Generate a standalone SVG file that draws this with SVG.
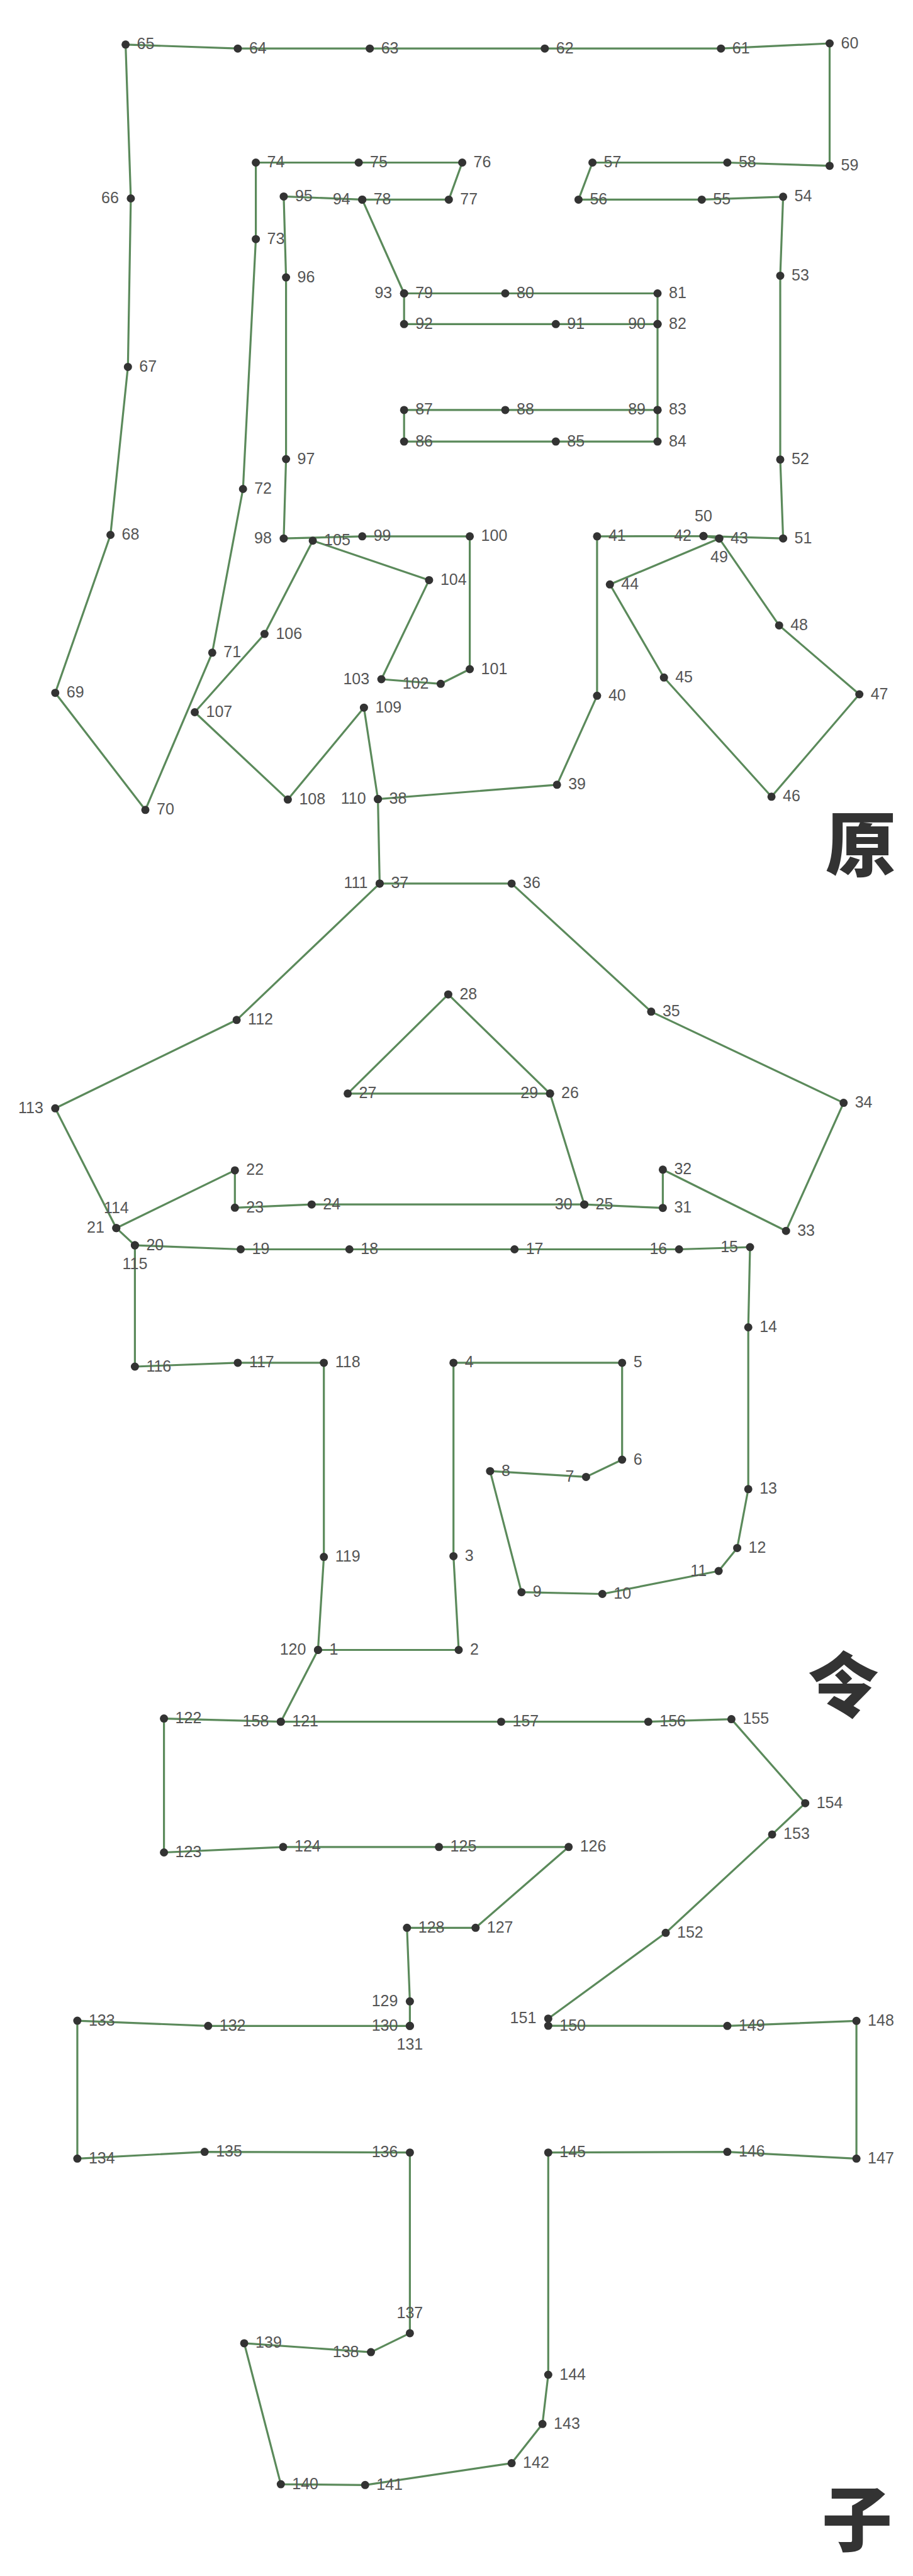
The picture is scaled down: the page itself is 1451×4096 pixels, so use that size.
<svg xmlns="http://www.w3.org/2000/svg" width="1451" height="4096" viewBox="0 0 1451 4096">
<style>
.bg{fill:#fff}
.ln{fill:none;stroke:#5b8a5b;stroke-width:3.2;stroke-linejoin:round;stroke-linecap:round}
circle{fill:#333}
text{font-family:"Liberation Sans",Arial,sans-serif;font-size:25px;fill:#555}
.R text{text-anchor:start}
.L text{text-anchor:end}
.A text,.B text{text-anchor:middle}
.cjk{font-family:"Noto Sans CJK SC","Noto Sans CJK JP",sans-serif;font-size:112px;font-weight:900;fill:#333;text-anchor:middle}
</style>
<rect class="bg" x="0" y="0" width="1451" height="4096"/>
<g id="connectors">
<polyline class="ln" points="505.4,2623.5 729.0,2623.5 720.7,2474.4 720.7,2166.9 988.7,2166.9 988.7,2321.0 931.4,2348.4 778.9,2339.2 828.8,2531.7 957.3,2534.5 1142.1,2498.0 1171.6,2461.4 1189.2,2367.8 1189.2,2110.5 1192.0,1983.0 1079.2,1986.5 817.7,1986.5 555.3,1986.5 382.5,1986.5 214.4,1980.1 184.8,1952.7 373.3,1860.9 373.3,1920.3 495.3,1915.2 928.6,1915.2 874.1,1738.8 552.6,1738.8 712.4,1581.2 874.1,1738.8 928.6,1915.2 1053.4,1920.7 1053.4,1859.8 1249.2,1957.2 1340.7,1753.6 1034.9,1608.6 813.1,1404.9 603.4,1404.9 600.6,1270.6 885.2,1247.8 948.9,1106.3 948.9,852.8 1118.0,852.3 1143.0,856.2 969.3,929.3 1055.2,1077.3 1226.1,1266.8 1365.7,1104.0 1238.2,994.4 1143.0,856.2 1118.0,852.3 1244.6,856.2 1240.0,730.7 1240.0,438.4 1244.6,312.8 1115.3,317.4 919.4,317.4 941.6,258.5 1155.9,258.5 1318.5,263.7 1318.5,69.0 1145.8,77.2 865.8,77.2 587.7,77.2 377.9,77.2 199.6,70.8 207.9,315.5 203.3,583.4 175.6,850.5 87.8,1101.7 231.0,1287.8 337.3,1037.8 386.2,777.5 406.6,380.2 406.6,258.5 570.1,258.5 734.6,258.5 713.3,317.4 575.7,317.4 642.2,466.5 803.0,466.5 1045.0,466.5 1045.0,515.3 1045.0,651.9 1045.0,702.1 883.3,702.1 642.2,702.1 642.2,651.9 803.0,651.9 1045.0,651.9 1045.0,515.3 883.3,515.3 642.2,515.3 642.2,466.5 575.7,317.4 450.9,312.4 454.6,441.1 454.6,730.0 450.9,856.2 575.7,852.8 746.6,852.8 746.6,1064.0 700.4,1087.3 606.1,1080.0 681.9,922.4 497.1,859.7 420.4,1008.1 309.5,1132.5 457.4,1271.3 578.4,1125.2 600.6,1270.6 603.4,1404.9 376.1,1621.8 87.8,1762.3 184.8,1952.7 214.4,1980.1 214.4,2173.0 377.9,2166.9 514.7,2166.9 514.7,2475.6 505.4,2623.5 446.3,2737.7 260.6,2732.6 260.6,2945.5 450.0,2936.8 697.6,2936.8 903.7,2936.8 755.8,3065.3 646.8,3065.3 651.4,3182.3 651.4,3221.3 651.4,3221.3 330.8,3221.3 122.9,3213.1 122.9,3432.3 325.2,3421.6 651.4,3422.7 651.4,3709.9 589.5,3740.1 388.1,3725.9 446.3,3950.1 580.3,3951.3 813.1,3916.6 862.1,3854.3 871.3,3776.0 871.3,3422.7 1155.9,3421.6 1361.1,3432.3 1361.1,3213.3 1155.9,3221.3 871.3,3221.1 871.3,3209.7 1058.0,3073.3 1227.1,2916.9 1279.7,2867.2 1162.4,2733.6 1030.3,2737.7 796.5,2737.7 446.3,2737.7"/>
</g>
<g id="nodes">
<g id="n1" class="R" transform="translate(505.4 2623.5)"><circle r="6.5"/><text x="18" y="7.5">1</text></g>
<g id="n2" class="R" transform="translate(729.0 2623.5)"><circle r="6.5"/><text x="18" y="7.5">2</text></g>
<g id="n3" class="R" transform="translate(720.7 2474.4)"><circle r="6.5"/><text x="18" y="7.5">3</text></g>
<g id="n4" class="R" transform="translate(720.7 2166.9)"><circle r="6.5"/><text x="18" y="7.5">4</text></g>
<g id="n5" class="R" transform="translate(988.7 2166.9)"><circle r="6.5"/><text x="18" y="7.5">5</text></g>
<g id="n6" class="R" transform="translate(988.7 2321.0)"><circle r="6.5"/><text x="18" y="7.5">6</text></g>
<g id="n7" class="L" transform="translate(931.4 2348.4)"><circle r="6.5"/><text x="-19" y="7.5">7</text></g>
<g id="n8" class="R" transform="translate(778.9 2339.2)"><circle r="6.5"/><text x="18" y="7.5">8</text></g>
<g id="n9" class="R" transform="translate(828.8 2531.7)"><circle r="6.5"/><text x="18" y="7.5">9</text></g>
<g id="n10" class="R" transform="translate(957.3 2534.5)"><circle r="6.5"/><text x="18" y="7.5">10</text></g>
<g id="n11" class="L" transform="translate(1142.1 2498.0)"><circle r="6.5"/><text x="-19" y="7.5">11</text></g>
<g id="n12" class="R" transform="translate(1171.6 2461.4)"><circle r="6.5"/><text x="18" y="7.5">12</text></g>
<g id="n13" class="R" transform="translate(1189.2 2367.8)"><circle r="6.5"/><text x="18" y="7.5">13</text></g>
<g id="n14" class="R" transform="translate(1189.2 2110.5)"><circle r="6.5"/><text x="18" y="7.5">14</text></g>
<g id="n15" class="L" transform="translate(1192.0 1983.0)"><circle r="6.5"/><text x="-19" y="7.5">15</text></g>
<g id="n16" class="L" transform="translate(1079.2 1986.5)"><circle r="6.5"/><text x="-19" y="7.5">16</text></g>
<g id="n17" class="R" transform="translate(817.7 1986.5)"><circle r="6.5"/><text x="18" y="7.5">17</text></g>
<g id="n18" class="R" transform="translate(555.3 1986.5)"><circle r="6.5"/><text x="18" y="7.5">18</text></g>
<g id="n19" class="R" transform="translate(382.5 1986.5)"><circle r="6.5"/><text x="18" y="7.5">19</text></g>
<g id="n20" class="R" transform="translate(214.4 1980.1)"><circle r="6.5"/><text x="18" y="7.5">20</text></g>
<g id="n21" class="L" transform="translate(184.8 1952.7)"><circle r="6.5"/><text x="-19" y="7.5">21</text></g>
<g id="n22" class="R" transform="translate(373.3 1860.9)"><circle r="6.5"/><text x="18" y="7.5">22</text></g>
<g id="n23" class="R" transform="translate(373.3 1920.3)"><circle r="6.5"/><text x="18" y="7.5">23</text></g>
<g id="n24" class="R" transform="translate(495.3 1915.2)"><circle r="6.5"/><text x="18" y="7.5">24</text></g>
<g id="n25" class="R" transform="translate(928.6 1915.2)"><circle r="6.5"/><text x="18" y="7.5">25</text></g>
<g id="n26" class="R" transform="translate(874.1 1738.8)"><circle r="6.5"/><text x="18" y="7.5">26</text></g>
<g id="n27" class="R" transform="translate(552.6 1738.8)"><circle r="6.5"/><text x="18" y="7.5">27</text></g>
<g id="n28" class="R" transform="translate(712.4 1581.2)"><circle r="6.5"/><text x="18" y="7.5">28</text></g>
<g id="n29" class="L" transform="translate(874.1 1738.8)"><circle r="6.5"/><text x="-19" y="7.5">29</text></g>
<g id="n30" class="L" transform="translate(928.6 1915.2)"><circle r="6.5"/><text x="-19" y="7.5">30</text></g>
<g id="n31" class="R" transform="translate(1053.4 1920.7)"><circle r="6.5"/><text x="18" y="7.5">31</text></g>
<g id="n32" class="R" transform="translate(1053.4 1859.8)"><circle r="6.5"/><text x="18" y="7.5">32</text></g>
<g id="n33" class="R" transform="translate(1249.2 1957.2)"><circle r="6.5"/><text x="18" y="7.5">33</text></g>
<g id="n34" class="R" transform="translate(1340.7 1753.6)"><circle r="6.5"/><text x="18" y="7.5">34</text></g>
<g id="n35" class="R" transform="translate(1034.9 1608.6)"><circle r="6.5"/><text x="18" y="7.5">35</text></g>
<g id="n36" class="R" transform="translate(813.1 1404.9)"><circle r="6.5"/><text x="18" y="7.5">36</text></g>
<g id="n37" class="R" transform="translate(603.4 1404.9)"><circle r="6.5"/><text x="18" y="7.5">37</text></g>
<g id="n38" class="R" transform="translate(600.6 1270.6)"><circle r="6.5"/><text x="18" y="7.5">38</text></g>
<g id="n39" class="R" transform="translate(885.2 1247.8)"><circle r="6.5"/><text x="18" y="7.5">39</text></g>
<g id="n40" class="R" transform="translate(948.9 1106.3)"><circle r="6.5"/><text x="18" y="7.5">40</text></g>
<g id="n41" class="R" transform="translate(948.9 852.8)"><circle r="6.5"/><text x="18" y="7.5">41</text></g>
<g id="n42" class="L" transform="translate(1118.0 852.3)"><circle r="6.5"/><text x="-19" y="7.5">42</text></g>
<g id="n43" class="R" transform="translate(1143.0 856.2)"><circle r="6.5"/><text x="18" y="7.5">43</text></g>
<g id="n44" class="R" transform="translate(969.3 929.3)"><circle r="6.5"/><text x="18" y="7.5">44</text></g>
<g id="n45" class="R" transform="translate(1055.2 1077.3)"><circle r="6.5"/><text x="18" y="7.5">45</text></g>
<g id="n46" class="R" transform="translate(1226.1 1266.8)"><circle r="6.5"/><text x="18" y="7.5">46</text></g>
<g id="n47" class="R" transform="translate(1365.7 1104.0)"><circle r="6.5"/><text x="18" y="7.5">47</text></g>
<g id="n48" class="R" transform="translate(1238.2 994.4)"><circle r="6.5"/><text x="18" y="7.5">48</text></g>
<g id="n49" class="B" transform="translate(1143.0 856.2)"><circle r="6.5"/><text x="0" y="38">49</text></g>
<g id="n50" class="A" transform="translate(1118.0 852.3)"><circle r="6.5"/><text x="0" y="-23.5">50</text></g>
<g id="n51" class="R" transform="translate(1244.6 856.2)"><circle r="6.5"/><text x="18" y="7.5">51</text></g>
<g id="n52" class="R" transform="translate(1240.0 730.7)"><circle r="6.5"/><text x="18" y="7.5">52</text></g>
<g id="n53" class="R" transform="translate(1240.0 438.4)"><circle r="6.5"/><text x="18" y="7.5">53</text></g>
<g id="n54" class="R" transform="translate(1244.6 312.8)"><circle r="6.5"/><text x="18" y="7.5">54</text></g>
<g id="n55" class="R" transform="translate(1115.3 317.4)"><circle r="6.5"/><text x="18" y="7.5">55</text></g>
<g id="n56" class="R" transform="translate(919.4 317.4)"><circle r="6.5"/><text x="18" y="7.5">56</text></g>
<g id="n57" class="R" transform="translate(941.6 258.5)"><circle r="6.5"/><text x="18" y="7.5">57</text></g>
<g id="n58" class="R" transform="translate(1155.9 258.5)"><circle r="6.5"/><text x="18" y="7.5">58</text></g>
<g id="n59" class="R" transform="translate(1318.5 263.7)"><circle r="6.5"/><text x="18" y="7.5">59</text></g>
<g id="n60" class="R" transform="translate(1318.5 69.0)"><circle r="6.5"/><text x="18" y="7.5">60</text></g>
<g id="n61" class="R" transform="translate(1145.8 77.2)"><circle r="6.5"/><text x="18" y="7.5">61</text></g>
<g id="n62" class="R" transform="translate(865.8 77.2)"><circle r="6.5"/><text x="18" y="7.5">62</text></g>
<g id="n63" class="R" transform="translate(587.7 77.2)"><circle r="6.5"/><text x="18" y="7.5">63</text></g>
<g id="n64" class="R" transform="translate(377.9 77.2)"><circle r="6.5"/><text x="18" y="7.5">64</text></g>
<g id="n65" class="R" transform="translate(199.6 70.8)"><circle r="6.5"/><text x="18" y="7.5">65</text></g>
<g id="n66" class="L" transform="translate(207.9 315.5)"><circle r="6.5"/><text x="-19" y="7.5">66</text></g>
<g id="n67" class="R" transform="translate(203.3 583.4)"><circle r="6.5"/><text x="18" y="7.5">67</text></g>
<g id="n68" class="R" transform="translate(175.6 850.5)"><circle r="6.5"/><text x="18" y="7.5">68</text></g>
<g id="n69" class="R" transform="translate(87.8 1101.7)"><circle r="6.5"/><text x="18" y="7.5">69</text></g>
<g id="n70" class="R" transform="translate(231.0 1287.8)"><circle r="6.5"/><text x="18" y="7.5">70</text></g>
<g id="n71" class="R" transform="translate(337.3 1037.8)"><circle r="6.5"/><text x="18" y="7.5">71</text></g>
<g id="n72" class="R" transform="translate(386.2 777.5)"><circle r="6.5"/><text x="18" y="7.5">72</text></g>
<g id="n73" class="R" transform="translate(406.6 380.2)"><circle r="6.5"/><text x="18" y="7.5">73</text></g>
<g id="n74" class="R" transform="translate(406.6 258.5)"><circle r="6.5"/><text x="18" y="7.5">74</text></g>
<g id="n75" class="R" transform="translate(570.1 258.5)"><circle r="6.5"/><text x="18" y="7.5">75</text></g>
<g id="n76" class="R" transform="translate(734.6 258.5)"><circle r="6.5"/><text x="18" y="7.5">76</text></g>
<g id="n77" class="R" transform="translate(713.3 317.4)"><circle r="6.5"/><text x="18" y="7.5">77</text></g>
<g id="n78" class="R" transform="translate(575.7 317.4)"><circle r="6.5"/><text x="18" y="7.5">78</text></g>
<g id="n79" class="R" transform="translate(642.2 466.5)"><circle r="6.5"/><text x="18" y="7.5">79</text></g>
<g id="n80" class="R" transform="translate(803.0 466.5)"><circle r="6.5"/><text x="18" y="7.5">80</text></g>
<g id="n81" class="R" transform="translate(1045.0 466.5)"><circle r="6.5"/><text x="18" y="7.5">81</text></g>
<g id="n82" class="R" transform="translate(1045.0 515.3)"><circle r="6.5"/><text x="18" y="7.5">82</text></g>
<g id="n83" class="R" transform="translate(1045.0 651.9)"><circle r="6.5"/><text x="18" y="7.5">83</text></g>
<g id="n84" class="R" transform="translate(1045.0 702.1)"><circle r="6.5"/><text x="18" y="7.5">84</text></g>
<g id="n85" class="R" transform="translate(883.3 702.1)"><circle r="6.5"/><text x="18" y="7.5">85</text></g>
<g id="n86" class="R" transform="translate(642.2 702.1)"><circle r="6.5"/><text x="18" y="7.5">86</text></g>
<g id="n87" class="R" transform="translate(642.2 651.9)"><circle r="6.5"/><text x="18" y="7.5">87</text></g>
<g id="n88" class="R" transform="translate(803.0 651.9)"><circle r="6.5"/><text x="18" y="7.5">88</text></g>
<g id="n89" class="L" transform="translate(1045.0 651.9)"><circle r="6.5"/><text x="-19" y="7.5">89</text></g>
<g id="n90" class="L" transform="translate(1045.0 515.3)"><circle r="6.5"/><text x="-19" y="7.5">90</text></g>
<g id="n91" class="R" transform="translate(883.3 515.3)"><circle r="6.5"/><text x="18" y="7.5">91</text></g>
<g id="n92" class="R" transform="translate(642.2 515.3)"><circle r="6.5"/><text x="18" y="7.5">92</text></g>
<g id="n93" class="L" transform="translate(642.2 466.5)"><circle r="6.5"/><text x="-19" y="7.5">93</text></g>
<g id="n94" class="L" transform="translate(575.7 317.4)"><circle r="6.5"/><text x="-19" y="7.5">94</text></g>
<g id="n95" class="R" transform="translate(450.9 312.4)"><circle r="6.5"/><text x="18" y="7.5">95</text></g>
<g id="n96" class="R" transform="translate(454.6 441.1)"><circle r="6.5"/><text x="18" y="7.5">96</text></g>
<g id="n97" class="R" transform="translate(454.6 730.0)"><circle r="6.5"/><text x="18" y="7.5">97</text></g>
<g id="n98" class="L" transform="translate(450.9 856.2)"><circle r="6.5"/><text x="-19" y="7.5">98</text></g>
<g id="n99" class="R" transform="translate(575.7 852.8)"><circle r="6.5"/><text x="18" y="7.5">99</text></g>
<g id="n100" class="R" transform="translate(746.6 852.8)"><circle r="6.5"/><text x="18" y="7.5">100</text></g>
<g id="n101" class="R" transform="translate(746.6 1064.0)"><circle r="6.5"/><text x="18" y="7.5">101</text></g>
<g id="n102" class="L" transform="translate(700.4 1087.3)"><circle r="6.5"/><text x="-19" y="7.5">102</text></g>
<g id="n103" class="L" transform="translate(606.1 1080.0)"><circle r="6.5"/><text x="-19" y="7.5">103</text></g>
<g id="n104" class="R" transform="translate(681.9 922.4)"><circle r="6.5"/><text x="18" y="7.5">104</text></g>
<g id="n105" class="R" transform="translate(497.1 859.7)"><circle r="6.5"/><text x="18" y="7.5">105</text></g>
<g id="n106" class="R" transform="translate(420.4 1008.1)"><circle r="6.5"/><text x="18" y="7.5">106</text></g>
<g id="n107" class="R" transform="translate(309.5 1132.5)"><circle r="6.5"/><text x="18" y="7.5">107</text></g>
<g id="n108" class="R" transform="translate(457.4 1271.3)"><circle r="6.5"/><text x="18" y="7.5">108</text></g>
<g id="n109" class="R" transform="translate(578.4 1125.2)"><circle r="6.5"/><text x="18" y="7.5">109</text></g>
<g id="n110" class="L" transform="translate(600.6 1270.6)"><circle r="6.5"/><text x="-19" y="7.5">110</text></g>
<g id="n111" class="L" transform="translate(603.4 1404.9)"><circle r="6.5"/><text x="-19" y="7.5">111</text></g>
<g id="n112" class="R" transform="translate(376.1 1621.8)"><circle r="6.5"/><text x="18" y="7.5">112</text></g>
<g id="n113" class="L" transform="translate(87.8 1762.3)"><circle r="6.5"/><text x="-19" y="7.5">113</text></g>
<g id="n114" class="A" transform="translate(184.8 1952.7)"><circle r="6.5"/><text x="0" y="-23.5">114</text></g>
<g id="n115" class="B" transform="translate(214.4 1980.1)"><circle r="6.5"/><text x="0" y="38">115</text></g>
<g id="n116" class="R" transform="translate(214.4 2173.0)"><circle r="6.5"/><text x="18" y="7.5">116</text></g>
<g id="n117" class="R" transform="translate(377.9 2166.9)"><circle r="6.5"/><text x="18" y="7.5">117</text></g>
<g id="n118" class="R" transform="translate(514.7 2166.9)"><circle r="6.5"/><text x="18" y="7.5">118</text></g>
<g id="n119" class="R" transform="translate(514.7 2475.6)"><circle r="6.5"/><text x="18" y="7.5">119</text></g>
<g id="n120" class="L" transform="translate(505.4 2623.5)"><circle r="6.5"/><text x="-19" y="7.5">120</text></g>
<g id="n121" class="R" transform="translate(446.3 2737.7)"><circle r="6.5"/><text x="18" y="7.5">121</text></g>
<g id="n122" class="R" transform="translate(260.6 2732.6)"><circle r="6.5"/><text x="18" y="7.5">122</text></g>
<g id="n123" class="R" transform="translate(260.6 2945.5)"><circle r="6.5"/><text x="18" y="7.5">123</text></g>
<g id="n124" class="R" transform="translate(450.0 2936.8)"><circle r="6.5"/><text x="18" y="7.5">124</text></g>
<g id="n125" class="R" transform="translate(697.6 2936.8)"><circle r="6.5"/><text x="18" y="7.5">125</text></g>
<g id="n126" class="R" transform="translate(903.7 2936.8)"><circle r="6.5"/><text x="18" y="7.5">126</text></g>
<g id="n127" class="R" transform="translate(755.8 3065.3)"><circle r="6.5"/><text x="18" y="7.5">127</text></g>
<g id="n128" class="R" transform="translate(646.8 3065.3)"><circle r="6.5"/><text x="18" y="7.5">128</text></g>
<g id="n129" class="L" transform="translate(651.4 3182.3)"><circle r="6.5"/><text x="-19" y="7.5">129</text></g>
<g id="n130" class="L" transform="translate(651.4 3221.3)"><circle r="6.5"/><text x="-19" y="7.5">130</text></g>
<g id="n131" class="B" transform="translate(651.4 3221.3)"><circle r="6.5"/><text x="0" y="38">131</text></g>
<g id="n132" class="R" transform="translate(330.8 3221.3)"><circle r="6.5"/><text x="18" y="7.5">132</text></g>
<g id="n133" class="R" transform="translate(122.9 3213.1)"><circle r="6.5"/><text x="18" y="7.5">133</text></g>
<g id="n134" class="R" transform="translate(122.9 3432.3)"><circle r="6.5"/><text x="18" y="7.5">134</text></g>
<g id="n135" class="R" transform="translate(325.2 3421.6)"><circle r="6.5"/><text x="18" y="7.5">135</text></g>
<g id="n136" class="L" transform="translate(651.4 3422.7)"><circle r="6.5"/><text x="-19" y="7.5">136</text></g>
<g id="n137" class="A" transform="translate(651.4 3709.9)"><circle r="6.5"/><text x="0" y="-23.5">137</text></g>
<g id="n138" class="L" transform="translate(589.5 3740.1)"><circle r="6.5"/><text x="-19" y="7.5">138</text></g>
<g id="n139" class="R" transform="translate(388.1 3725.9)"><circle r="6.5"/><text x="18" y="7.5">139</text></g>
<g id="n140" class="R" transform="translate(446.3 3950.1)"><circle r="6.5"/><text x="18" y="7.5">140</text></g>
<g id="n141" class="R" transform="translate(580.3 3951.3)"><circle r="6.5"/><text x="18" y="7.5">141</text></g>
<g id="n142" class="R" transform="translate(813.1 3916.6)"><circle r="6.5"/><text x="18" y="7.5">142</text></g>
<g id="n143" class="R" transform="translate(862.1 3854.3)"><circle r="6.5"/><text x="18" y="7.5">143</text></g>
<g id="n144" class="R" transform="translate(871.3 3776.0)"><circle r="6.5"/><text x="18" y="7.5">144</text></g>
<g id="n145" class="R" transform="translate(871.3 3422.7)"><circle r="6.5"/><text x="18" y="7.5">145</text></g>
<g id="n146" class="R" transform="translate(1155.9 3421.6)"><circle r="6.5"/><text x="18" y="7.5">146</text></g>
<g id="n147" class="R" transform="translate(1361.1 3432.3)"><circle r="6.5"/><text x="18" y="7.5">147</text></g>
<g id="n148" class="R" transform="translate(1361.1 3213.3)"><circle r="6.5"/><text x="18" y="7.5">148</text></g>
<g id="n149" class="R" transform="translate(1155.9 3221.3)"><circle r="6.5"/><text x="18" y="7.5">149</text></g>
<g id="n150" class="R" transform="translate(871.3 3221.1)"><circle r="6.5"/><text x="18" y="7.5">150</text></g>
<g id="n151" class="L" transform="translate(871.3 3209.7)"><circle r="6.5"/><text x="-19" y="7.5">151</text></g>
<g id="n152" class="R" transform="translate(1058.0 3073.3)"><circle r="6.5"/><text x="18" y="7.5">152</text></g>
<g id="n153" class="R" transform="translate(1227.1 2916.9)"><circle r="6.5"/><text x="18" y="7.5">153</text></g>
<g id="n154" class="R" transform="translate(1279.7 2867.2)"><circle r="6.5"/><text x="18" y="7.5">154</text></g>
<g id="n155" class="R" transform="translate(1162.4 2733.6)"><circle r="6.5"/><text x="18" y="7.5">155</text></g>
<g id="n156" class="R" transform="translate(1030.3 2737.7)"><circle r="6.5"/><text x="18" y="7.5">156</text></g>
<g id="n157" class="R" transform="translate(796.5 2737.7)"><circle r="6.5"/><text x="18" y="7.5">157</text></g>
<g id="n158" class="L" transform="translate(446.3 2737.7)"><circle r="6.5"/><text x="-19" y="7.5">158</text></g>
</g>
<g id="characters">
<text class="cjk" x="1368" y="1385">原</text>
<text class="cjk" x="1340" y="2722">令</text>
<text class="cjk" x="1362" y="4048">子</text>
</g>
</svg>
